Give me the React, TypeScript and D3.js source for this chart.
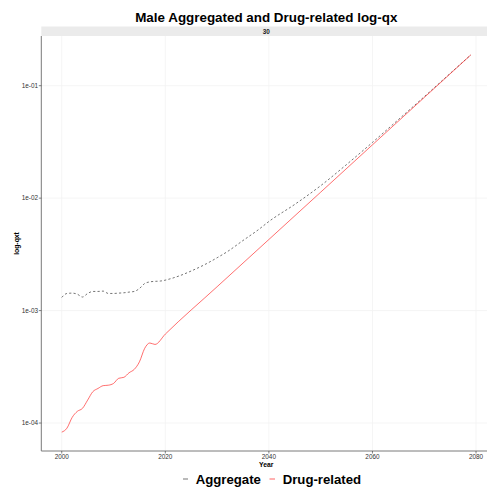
import React from "react";
import * as d3 from "d3";

const drugYears = [2000, 2001, 2002, 2003, 2004, 2005, 2006, 2007, 2008, 2009, 2010, 2011, 2012, 2013, 2014, 2015, 2016, 2017, 2018, 2020, 2030, 2040, 2050, 2060, 2070, 2079];
const drugValues = [8.3e-5, 9.0e-5, 1.12e-4, 1.27e-4, 1.35e-4, 1.6e-4, 1.9e-4, 2.03e-4, 2.15e-4, 2.17e-4, 2.25e-4, 2.5e-4, 2.55e-4, 2.8e-4, 3.0e-4, 3.5e-4, 4.6e-4, 5.15e-4, 5.0e-4, 6.18e-4, 1.63e-3, 4.29e-3, 1.13e-2, 2.98e-2, 7.85e-2, 0.188];

const aggYears = [2000, 2001, 2002, 2003, 2004, 2005, 2006, 2007, 2008, 2009, 2010, 2011, 2012, 2013, 2014, 2015, 2016, 2017, 2018, 2019, 2021, 2023, 2025, 2028, 2030, 2032, 2035, 2038, 2040, 2045, 2050, 2055, 2060, 2065, 2070, 2075, 2079];
const aggValues = [1.31e-3, 1.42e-3, 1.43e-3, 1.4e-3, 1.32e-3, 1.42e-3, 1.48e-3, 1.48e-3, 1.49e-3, 1.42e-3, 1.42e-3, 1.43e-3, 1.44e-3, 1.46e-3, 1.48e-3, 1.57e-3, 1.74e-3, 1.8e-3, 1.82e-3, 1.83e-3, 1.92e-3, 2.06e-3, 2.25e-3, 2.62e-3, 2.95e-3, 3.35e-3, 4.2e-3, 5.25e-3, 6.2e-3, 8.8e-3, 1.29e-2, 1.99e-2, 3.13e-2, 4.99e-2, 7.98e-2, 0.1285, 0.188];

const xTicks = [2000, 2020, 2040, 2060, 2080];
const yTicks = [1e-4, 1e-3, 1e-2, 1e-1];
const yTickLabels = ["1e-04", "1e-03", "1e-02", "1e-01"];
const legendLabels = ["Aggregate", "Drug-related"];
const titleText = "Male Aggregated and Drug-related log-qx";
const stripText = "30";

const W = 487, H = 491;
const panelL = 41.3, panelR = 491.3, panelT = 36, panelB = 451;
const FONT = "'Liberation Sans', Arial, Helvetica, sans-serif";

export default function App() {
  const allYears = [...drugYears, ...aggYears];
  const xMin = d3.min(allYears)!, xMax = d3.max(allYears)!;
  const xPad = (xMax - xMin) * 0.05;
  const x = d3.scaleLinear().domain([xMin - xPad, xMax + xPad]).range([panelL, panelR]);

  const allVals = [...drugValues, ...aggValues].map(Math.log10);
  const lMin = d3.min(allVals)!, lMax = d3.max(allVals)!;
  const lPad = (lMax - lMin) * 0.05;
  const y = d3.scaleLog().domain([Math.pow(10, lMin - lPad), Math.pow(10, lMax + lPad)]).range([panelB, panelT]);

  const line = d3.line<[number, number]>().x(d => x(d[0])).y(d => y(d[1])).curve(d3.curveMonotoneX);
  const drugPath = line(drugYears.map((yr, i) => [yr, drugValues[i]]))!;
  const aggPath = line(aggYears.map((yr, i) => [yr, aggValues[i]]))!;
  const cx = (panelL + panelR) / 2;
  const cy = (panelT + panelB) / 2;

  return (
    <svg width={W} height={H} style={{ position: "absolute", left: 0, top: 0, background: "#fff" }} fontFamily={FONT}>
      <rect x={0} y={0} width={W} height={H} fill="#fff" />
      <text x={cx} y={22} textAnchor="middle" fontSize={13.4} fontWeight="bold" fill="#000">{titleText}</text>
      {/* strip */}
      <rect x={panelL} y={26.5} width={panelR - panelL} height={9.5} fill="#EBEBEB" />
      <text x={cx} y={33.6} textAnchor="middle" fontSize={6.4} fontWeight="bold" fill="#1A1A1A">{stripText}</text>
      {/* grid */}
      {xTicks.map(t => (
        <line key={"gx" + t} x1={x(t)} x2={x(t)} y1={panelT} y2={panelB} stroke="#F2F2F2" strokeWidth={0.8} />
      ))}
      {yTicks.map(t => (
        <line key={"gy" + t} x1={panelL} x2={panelR} y1={y(t)} y2={y(t)} stroke="#F2F2F2" strokeWidth={0.8} />
      ))}
      {/* lines */}
      <path d={aggPath} fill="none" stroke="#3a3a3a" strokeWidth={0.7} strokeDasharray="2.2,2.2" />
      <path d={drugPath} fill="none" stroke="#FF2020" strokeWidth={0.65} />
      {/* axes */}
      <line x1={panelL} x2={panelL} y1={panelT} y2={panelB} stroke="#7A7A7A" strokeWidth={1} />
      <line x1={panelL} x2={panelR} y1={panelB} y2={panelB} stroke="#7A7A7A" strokeWidth={1} />
      {yTicks.map((t, i) => (
        <g key={"yt" + t}>
          <line x1={panelL - 2.5} x2={panelL} y1={y(t)} y2={y(t)} stroke="#333" strokeWidth={0.6} />
          <text x={panelL - 3.2} y={y(t)} dy="0.35em" textAnchor="end" fontSize={6.4} fill="#333">{yTickLabels[i]}</text>
        </g>
      ))}
      {xTicks.map(t => (
        <g key={"xt" + t}>
          <line x1={x(t)} x2={x(t)} y1={panelB} y2={panelB + 2.5} stroke="#333" strokeWidth={0.6} />
          <text x={x(t)} y={panelB + 7.5} textAnchor="middle" fontSize={6.4} fill="#333">{t}</text>
        </g>
      ))}
      <text x={cx} y={466.5} textAnchor="middle" fontSize={6.8} fontWeight="bold" fill="#000">Year</text>
      <text transform={`translate(${16.5},${cy}) rotate(-90)`} textAnchor="middle" dy="0.35em" fontSize={6.8} fontWeight="bold" fill="#000">log-qxt</text>
      {/* legend */}
      <line x1={183} x2={188} y1={479} y2={479} stroke="#3a3a3a" strokeWidth={0.7} />
      <text x={195.7} y={484} fontSize={13.2} fontWeight="bold" fill="#000">{legendLabels[0]}</text>
      <line x1={269.5} x2={275} y1={479} y2={479} stroke="#FF2020" strokeWidth={0.7} />
      <text x={282.7} y={484} fontSize={13.2} fontWeight="bold" fill="#000">{legendLabels[1]}</text>
    </svg>
  );
}
